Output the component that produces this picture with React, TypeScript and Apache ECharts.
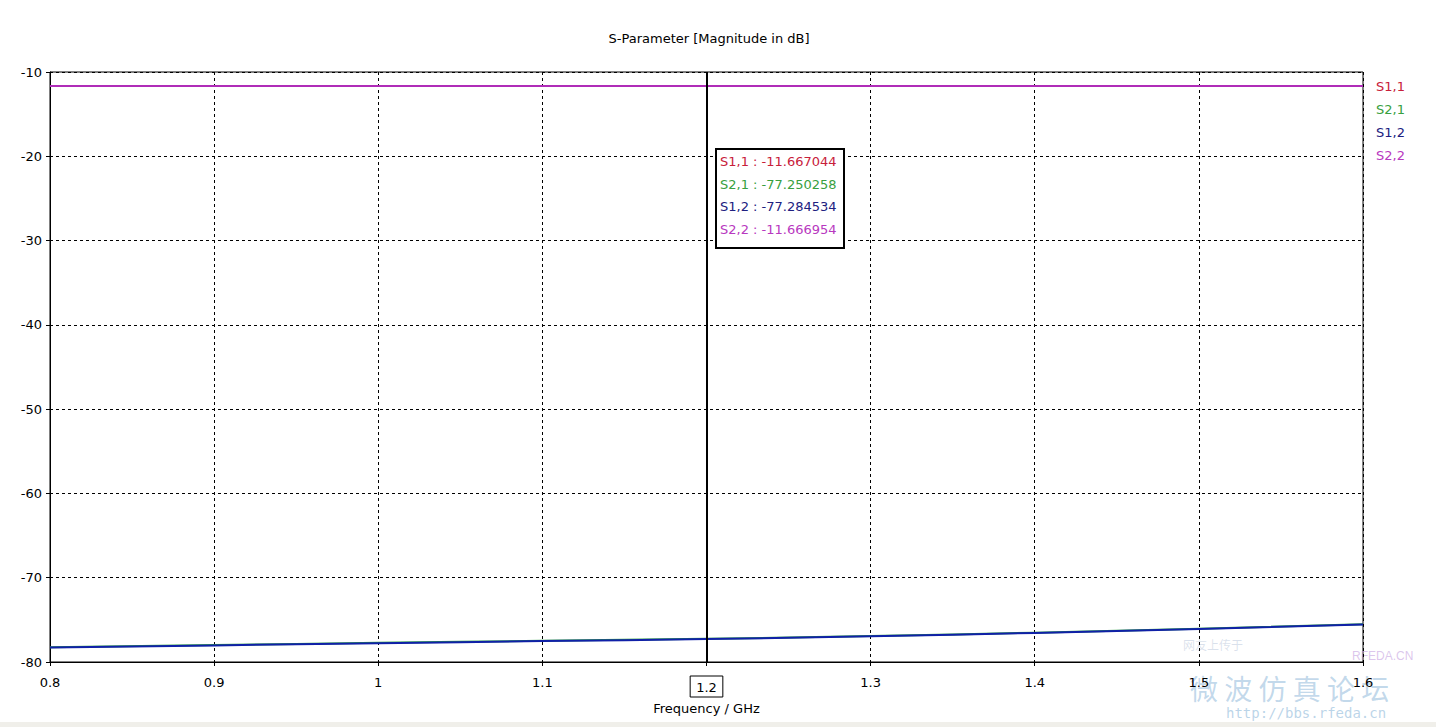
import React, { useEffect, useRef } from "react";
import * as echarts from "echarts";

const freqs = [0.8, 0.9, 1.0, 1.1, 1.2, 1.3, 1.4, 1.5, 1.6];
const s11 = [-11.667, -11.667, -11.667, -11.667, -11.667044, -11.667, -11.667, -11.667, -11.667];
const s21 = [-78.25, -77.99, -77.73, -77.48, -77.250258, -76.92, -76.52, -76.05, -75.52];
const s12 = [-78.29, -78.03, -77.77, -77.52, -77.284534, -76.95, -76.55, -76.08, -75.55];
const s22 = [-11.667, -11.667, -11.667, -11.667, -11.666954, -11.667, -11.667, -11.667, -11.667];
const seriesNames = ["S1,1", "S2,1", "S1,2", "S2,2"];
const seriesColors = ["#d8283a", "#30a040", "#1020a8", "#b02cb8"];
const textColors = ["#c8203a", "#38a040", "#202080", "#b838c0"];
const markerFreq = 1.2;
const markerValues = ["-11.667044", "-77.250258", "-77.284534", "-11.666954"];
const xTicks = ["0.8", "0.9", "1", "1.1", "1.2", "1.3", "1.4", "1.5", "1.6"];

const FONT = "DejaVu Sans";

export default function App() {
  const ref = useRef<HTMLDivElement>(null);
  useEffect(() => {
    if (!ref.current) return;
    const chart = echarts.init(ref.current, undefined, { renderer: "svg" });
    const allData = [s11, s21, s12, s22];
    const tipLines = seriesNames.map((n, i) => ({
      type: "text",
      left: 720,
      top: 155 + i * 22.5,
      style: {
        text: `${n} : ${markerValues[i]}`,
        fill: textColors[i],
        font: `13px "${FONT}"`,
      },
    }));
    chart.setOption({
      animation: false,
      backgroundColor: "#ffffff",
      title: {
        text: "S-Parameter [Magnitude in dB]",
        left: 704,
        textAlign: "center",
        top: 27,
        textStyle: { fontFamily: FONT, fontSize: 13, fontWeight: "normal", color: "#000" },
      },
      legend: {
        orient: "vertical",
        left: 1366,
        top: 74,
        icon: "none",
        itemWidth: 0,
        itemHeight: 14,
        itemGap: 9.5,
        selectedMode: false,
        data: seriesNames.map((n, i) => ({
          name: n,
          textStyle: { color: textColors[i], fontFamily: FONT, fontSize: 13 },
        })),
      },
      grid: {
        left: 50,
        right: 73,
        top: 72,
        bottom: 65,
        show: true,
        borderColor: "#000",
        borderWidth: 1,
      },
      xAxis: {
        type: "value",
        min: 0.8,
        max: 1.6,
        interval: 0.1,
        name: "Frequency / GHz",
        nameLocation: "middle",
        nameGap: 39,
        nameTextStyle: { fontFamily: FONT, fontSize: 13, color: "#000" },
        axisLine: { show: true, lineStyle: { color: "#000" } },
        axisTick: { show: true, length: 4, lineStyle: { color: "#000" } },
        axisLabel: {
          margin: 14,
          fontFamily: FONT,
          fontSize: 13,
          color: "#000",
          formatter: (v: number) => {
            const idx = Math.round((v - 0.8) / 0.1);
            const s = xTicks[idx] ?? String(v);
            return Math.abs(v - markerFreq) < 1e-6 ? `{box|${s}}` : s;
          },
          rich: {
            box: {
              borderColor: "#000",
              borderWidth: 1,
              padding: [5, 6, 3, 6],
              fontFamily: FONT,
              fontSize: 13,
              color: "#000",
            },
          },
        },
        splitLine: { show: true, lineStyle: { color: "#000", type: [3, 3], width: 1 } },
      },
      yAxis: {
        type: "value",
        min: -80,
        max: -10,
        interval: 10,
        axisLine: { show: true, lineStyle: { color: "#000" } },
        axisTick: { show: true, length: 4, lineStyle: { color: "#000" } },
        axisLabel: { margin: 8, fontFamily: FONT, fontSize: 13, color: "#000" },
        splitLine: { show: true, lineStyle: { color: "#000", type: [3, 3], width: 1 } },
      },
      series: seriesNames.map((n, i) => ({
        name: n,
        type: "line",
        showSymbol: false,
        symbol: "none",
        smooth: true,
        color: seriesColors[i],
        lineStyle: { width: 2, color: seriesColors[i] },
        data: freqs.map((f, k) => [f, allData[i][k]]),
        z: i === 0 ? 2 : i === 1 ? 2 : 3,
        ...(i === 3
          ? {
              markLine: {
                silent: true,
                symbol: "none",
                label: { show: false },
                lineStyle: { color: "#000", width: 2, type: "solid" },
                data: [{ xAxis: markerFreq }],
              },
            }
          : {}),
      })),
      graphic: [
        {
          type: "rect",
          shape: { x: 716, y: 149, width: 128, height: 99 },
          style: { fill: "#ffffff", stroke: "#000", lineWidth: 2 },
          z: 10,
        },
        ...tipLines.map((t) => ({ ...t, z: 11 })),
        {
          type: "text",
          left: 1183,
          top: 638,
          style: { text: "网友上传于", fill: "rgba(150,170,200,0.35)", font: '12px "Noto Sans CJK SC"' },
          z: 0,
        },
        {
          type: "text",
          left: 1352,
          top: 650,
          style: { text: "RFEDA.CN", fill: "rgba(190,150,220,0.55)", font: '12px "Liberation Sans"' },
          z: 0,
        },
        {
          type: "text",
          left: 1190,
          top: 674,
          style: { text: "微 波 仿 真 论 坛", fill: "rgba(120,170,210,0.45)", font: '28px "Noto Sans CJK SC"' },
          z: 0,
        },
        {
          type: "text",
          left: 1226,
          top: 706,
          style: { text: "http://bbs.rfeda.cn", fill: "rgba(120,170,210,0.5)", font: '14px "DejaVu Sans Mono"' },
          z: 0,
        },
        {
          type: "rect",
          shape: { x: 0, y: 722, width: 1436, height: 5 },
          style: { fill: "#f0efea" },
          z: 0,
        },
      ],
    });
    return () => chart.dispose();
  }, []);
  return (
    <div
      ref={ref}
      style={{ position: "fixed", left: 0, top: 0, width: 1436, height: 727 }}
    />
  );
}
